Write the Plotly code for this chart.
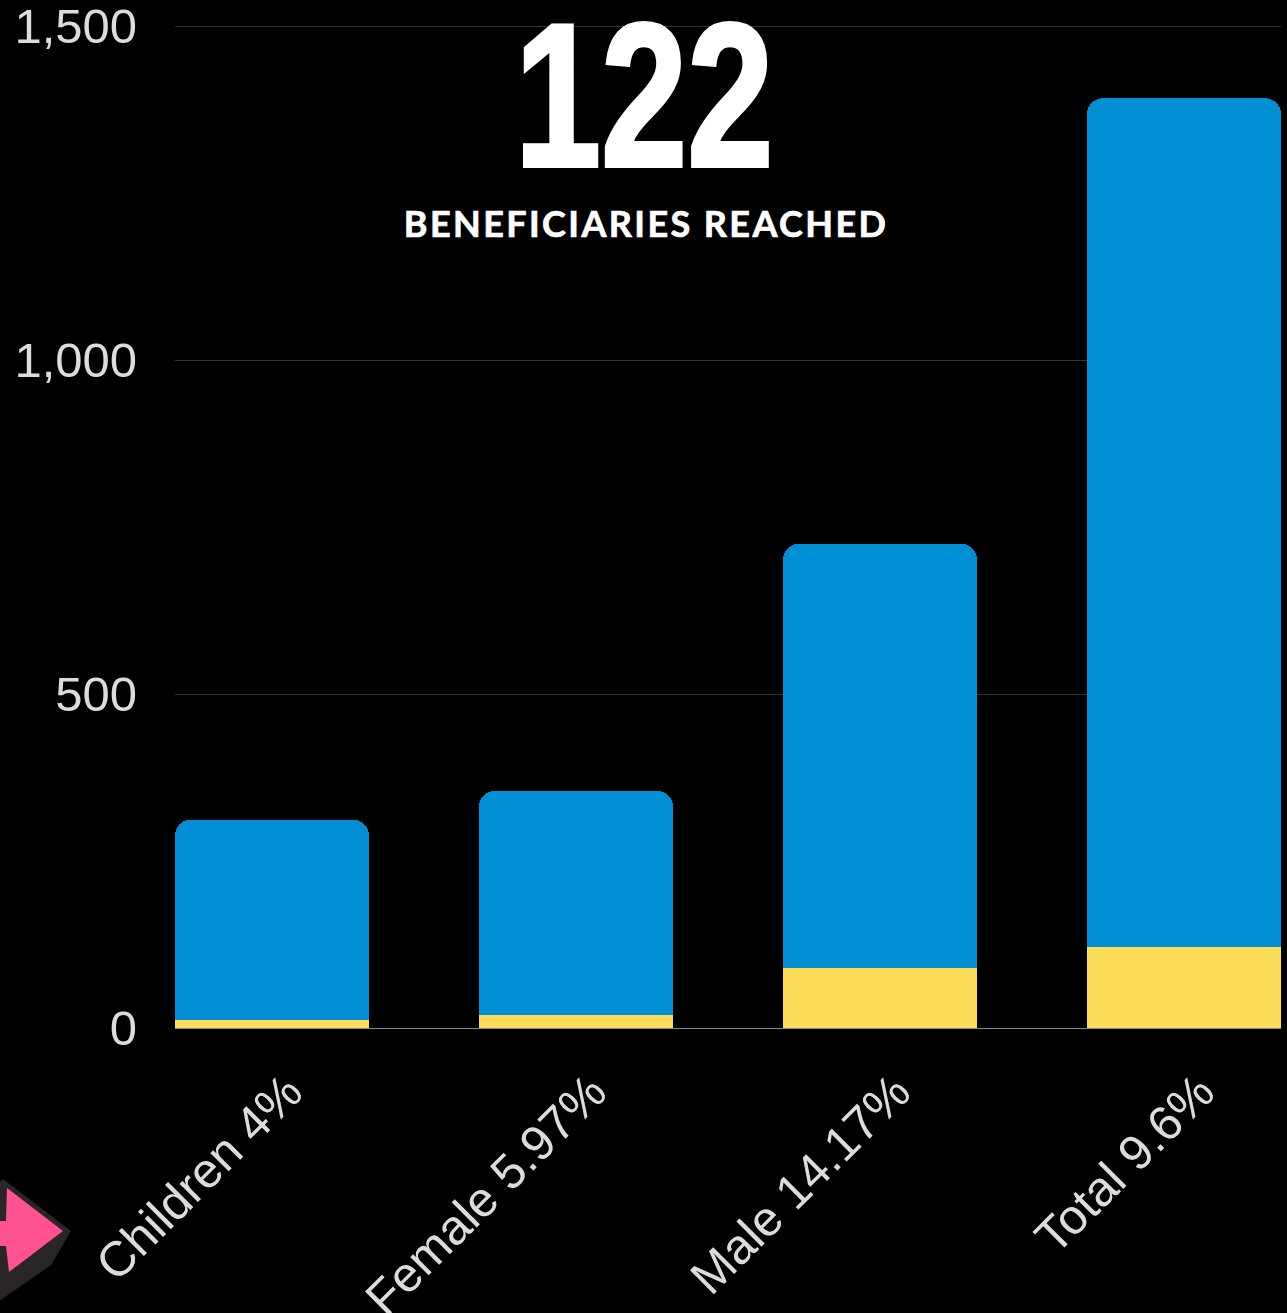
import plotly.graph_objects as go

categories = ["Children 4%", "Female 5.97%", "Male 14.17%", "Total 9.6%"]
reached = [12, 20, 90, 122]
remaining = [300, 335, 635, 1270]
y_ticks = [0, 500, 1000, 1500]
y_labels = ["0", "500", "1,000", "1,500"]

W, H = 1287, 1313
L, R, T, B = 175, 6, 24, 285

def px(x): return (x - L) / (W - L - R)
def py(y): return 1 - (y - T) / (H - T - B)
def path(points):
    return "M " + " L ".join(f"{px(x):.5f},{py(y):.5f}" for x, y in points) + " Z"

dark_arrow = [(-2, 1183), (3, 1179), (71, 1231), (51, 1265), (-2, 1302)]
pink_arrow = [(7, 1188), (63, 1231), (9, 1272), (6, 1246), (-2, 1246), (-2, 1221), (6, 1221)]

fig = go.Figure()
fig.add_bar(x=categories, y=reached, marker=dict(color="#ffdc5a", line_width=0), width=0.638, hoverinfo="skip")
fig.add_bar(x=categories, y=remaining, marker=dict(color="#008fd5", line_width=0), width=0.638, hoverinfo="skip")

fig.update_layout(
    width=W, height=H, autosize=False, showlegend=False,
    barmode="stack", barcornerradius=16,
    paper_bgcolor="#000000", plot_bgcolor="#000000",
    margin=dict(l=L, r=R, t=T, b=B, autoexpand=False),
    font=dict(family="Liberation Sans, Arial, sans-serif", color="#e6e6e6"),
    xaxis=dict(
        type="category", range=[-0.319, 3.319], tickangle=-45,
        tickfont=dict(size=49, color="#dcdcdc"), showgrid=False, ticks="",
        showline=False, zeroline=False, ticklabelstandoff=24, ticklabelshift=16,
        ticklabeloverflow="allow",
    ),
    yaxis=dict(
        range=[0, 1503], tickvals=y_ticks, ticktext=y_labels,
        tickfont=dict(size=49, color="#dcdcdc"),
        gridcolor="#333333", gridwidth=1, zeroline=True, zerolinecolor="#8c8c8c", zerolinewidth=1,
        ticks="", ticklabelstandoff=37, showline=False, ticklabeloverflow="allow",
    ),
    shapes=[
        dict(type="path", xref="paper", yref="paper", path=path(dark_arrow), fillcolor="#2a2627", line_width=0, layer="above"),
        dict(type="path", xref="paper", yref="paper", path=path(pink_arrow), fillcolor="#ff5293", line_width=0, layer="above"),
    ],
    annotations=[
        dict(text="<b>122</b>", xref="paper", yref="paper", x=px(644), y=py(95), xanchor="center", yanchor="middle",
             showarrow=False, font=dict(family="Liberation Sans", size=204, color="#ffffff")),
        dict(text="<b>BENEFICIARIES REACHED</b>", xref="paper", yref="paper", x=px(646), y=py(223), xanchor="center", yanchor="middle",
             showarrow=False, font=dict(family="Lato", size=36, color="#ffffff")),
    ],
)

post = """
document.documentElement.style.background='#000';
document.body.style.margin='0';
document.body.style.background='#000';
var texts = document.querySelectorAll('.annotation-text');
if (texts.length > 1) {
  var big = texts[0], bb = big.getBBox(), cx = bb.x + bb.width / 2;
  big.setAttribute('transform', 'translate(' + cx + ',0) scale(0.76,1) translate(' + (-cx) + ',0)');
  big.style.stroke = '#ffffff';
  big.style.strokeWidth = '4px';
  texts[1].style.letterSpacing = '2.4px';
  texts[1].style.stroke = '#ffffff';
  texts[1].style.strokeWidth = '0.7px';
}
"""
fig.write_html("out.html", post_script=post, config={"displayModeBar": False})
